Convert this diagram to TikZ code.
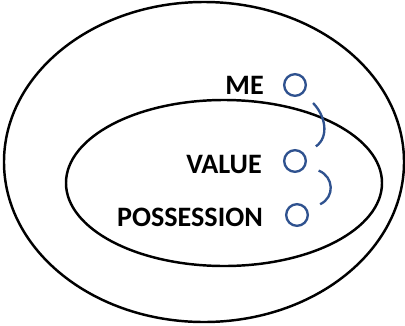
\documentclass[tikz,border=0pt]{standalone}
\usepackage{fontspec}
\setmainfont{Carlito}
\usepackage{xcolor}
\usepackage{tikz}
\usetikzlibrary{shapes.geometric, positioning}

\definecolor{linkblue}{RGB}{47,82,143}

\begin{document}
\begin{tikzpicture}[
    x=0.03cm, y=0.03cm,
    set/.style = {ellipse, draw=black, line width=2.1pt, inner sep=0pt},
    label/.style = {anchor=base east, inner sep=0pt, font=\fontsize{24}{28}\selectfont\bfseries},
    dot/.style = {circle, draw=linkblue, line width=2pt, inner sep=0pt, minimum size=0.65cm, outer sep=0.44cm},
    link/.style = {draw=linkblue, line width=2pt}
]
    \useasboundingbox (0,0) rectangle (405,325);
    \node [set, minimum width=12cm, minimum height=9.6cm] (outer) at (204,163) {};
    \node [set, minimum width=9.48cm, minimum height=4.98cm] (inner) at (224,142) {};

    \node [label] (me) at (264,231) {ME};
    \node [label] (value) at (262,152) {VALUE};
    \node [label] (possession) at (263,99) {POSSESSION};

    \node [dot] (meDot) at (295,240) {};
    \node [dot] (valueDot) at (295,164) {};
    \node [dot] (possDot) at (297,110) {};

    \path [link] (meDot) to[out=-45, in=35] (valueDot);
    \path [link] (valueDot) to[out=-22, in=25, looseness=1.25] (possDot);
\end{tikzpicture}
\end{document}
